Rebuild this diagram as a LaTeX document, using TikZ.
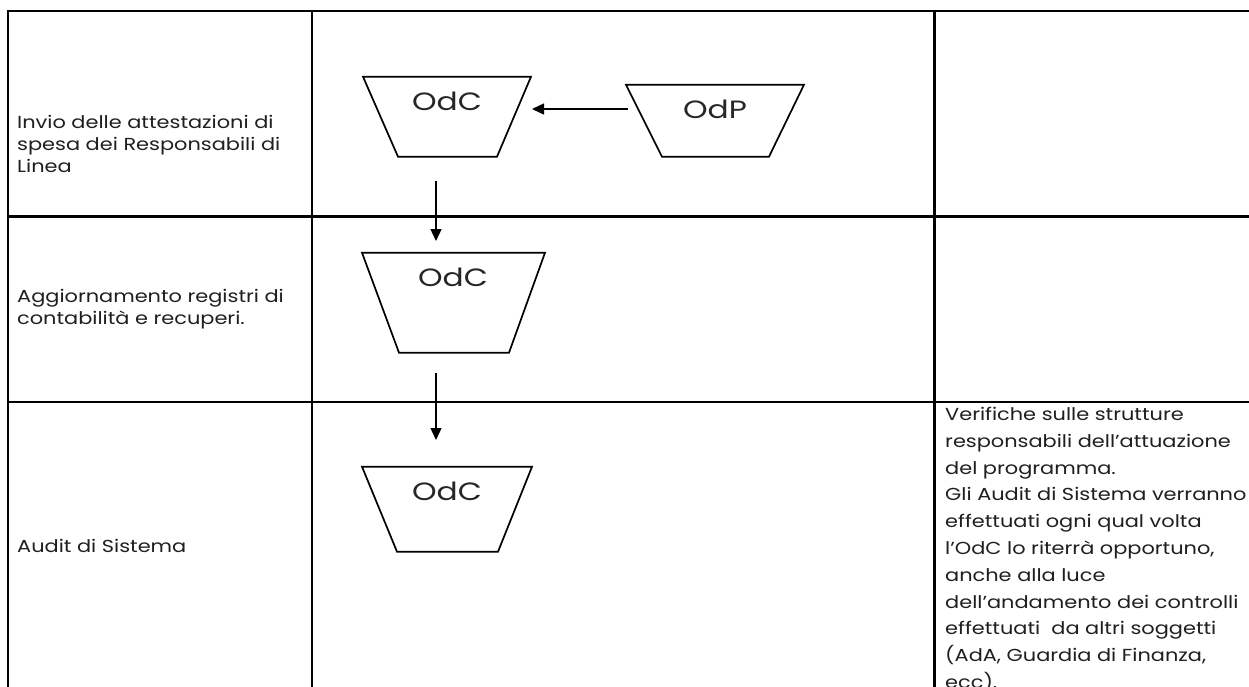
\documentclass[tikz,border=0pt]{standalone}
\usepackage{fontspec}
\setmainfont[FakeStretch=1.2]{Poppins}
\newfontfamily\labelfont[FakeStretch=1.25]{Poppins}
\usetikzlibrary{arrows.meta}

\tikzset{
  grid/.style={line width=2.6pt,line cap=rect},
  body/.style={draw,line width=1.7pt,line join=miter},
  flow/.style={line width=1.4pt,-{Triangle[length=12pt,width=11pt]}},
  celltext/.style={anchor=west,align=left,inner sep=0pt,text=black!88,
    font=\fontsize{17.4}{22}\selectfont},
  notetext/.style={anchor=north west,align=left,inner sep=0pt,text=black!88,
    font=\fontsize{17.4}{26.8}\selectfont},
  shapelabel/.style={inner sep=0pt,text=black!85,font=\labelfont\fontsize{25}{28}\selectfont}
}

\begin{document}
\begin{tikzpicture}[x=1pt,y=-1pt]
  \useasboundingbox (0,0) rectangle (1249,686);
  \fill[white] (0,0) rectangle (1249,686);

  % table rules
  \draw[grid] (8,11) -- (1252,11);
  \draw[grid] (8,216.5) -- (1252,216.5);
  \draw[grid] (8,402) -- (1252,402);
  \draw[grid] (8,11) -- (8,690);
  \draw[grid] (312,11) -- (312,690);
  \draw[grid] (934.5,11) -- (934.5,690);

  % first column: activities
  \node[celltext] (r1) at (17,144) {Invio delle attestazioni di\\spesa dei Responsabili di\\Linea};
  \node[celltext] (r2) at (17,309) {Aggiornamento registri di\\contabilità e recuperi.};
  \node[celltext] (r3) at (17,546) {Audit di Sistema};

  % third column: notes
  \node[notetext] (n3) at (945,407) {Verifiche sulle strutture\\responsabili dell’attuazione\\del programma.\\Gli Audit di Sistema verranno\\effettuati ogni qual volta\\l’OdC lo riterrà opportuno,\\anche alla luce\\dell’andamento dei controlli\\effettuati~ da altri soggetti\\(AdA, Guardia di Finanza,\\ecc).};

  % bodies (inverted trapezia)
  \draw[body] (363,76.7) -- (531,76.7) -- (497,156.7) -- (398,156.7) -- cycle;
  \draw[body] (626,84.7) -- (804,84.7) -- (769,156.7) -- (662,156.7) -- cycle;
  \draw[body] (362,252.7) -- (545,252.7) -- (509,352.7) -- (399,352.7) -- cycle;
  \draw[body] (362,466.7) -- (532,466.7) -- (498,551.7) -- (397,551.7) -- cycle;

  \node[shapelabel] (odc1) at (447,101) {OdC};
  \node[shapelabel] (odp) at (715,109) {OdP};
  \node[shapelabel] (odc2) at (453,277) {OdC};
  \node[shapelabel] (odc3) at (447,491) {OdC};

  % connectors
  \coordinate (p-out) at (628,109);
  \coordinate (c1-in) at (532,109);
  \coordinate (c1-out) at (436,181);
  \coordinate (c2-in) at (436,241);
  \coordinate (c2-out) at (436,373);
  \coordinate (c3-in) at (436,440);
  \draw[flow] (p-out) -- (c1-in);
  \draw[flow] (c1-out) -- (c2-in);
  \draw[flow] (c2-out) -- (c3-in);
\end{tikzpicture}
\end{document}
